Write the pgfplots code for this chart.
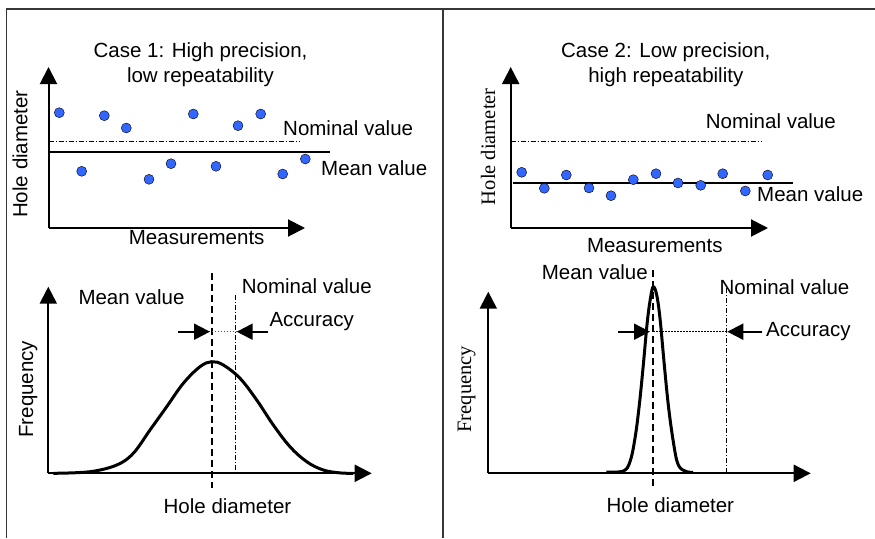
\documentclass[border=0pt]{standalone}
\usepackage{fontspec}
\setmainfont{Liberation Sans}
\newfontfamily\serif{Liberation Serif}
\usepackage{pgfplots}
\pgfplotsset{compat=1.18}
\usetikzlibrary{arrows.meta}

\definecolor{dotblue}{RGB}{51,102,255}
\definecolor{framegray}{RGB}{55,55,55}
\definecolor{accred}{RGB}{230,20,20}

% one picture unit = one pixel of the reference
\pgfplotsset{
  sketch/.style={scale only axis, anchor=south west, axis lines=left, ticks=none, clip=false,
    axis line style={line width=2pt, -{Triangle[length=17pt,width=17pt]}}},
  meas/.style={only marks, mark=*, mark size=5pt, mark options={draw=none, fill=dotblue}},
  nominal/.style={black, line width=0.9pt, dash pattern=on 5pt off 2pt on 1pt off 2pt},
  meanline/.style={black, line width=2pt},
  meanv/.style={black, line width=2pt, dash pattern=on 7pt off 4pt},
  curve/.style={black, line width=3pt, smooth, tension=0.6},
  acc/.style={black, line width=2pt, -{Triangle[length=16pt,width=16pt]}},
}
\tikzset{lab/.style={inner sep=0pt, font=\fontsize{20.5}{25}\selectfont}}

\begin{document}
\begin{tikzpicture}[x=1pt, y=1pt]
\useasboundingbox (0,0) rectangle (875,-538);
\draw[framegray, line width=1.5pt] (6.5,-538) -- (6.5,-9) -- (875,-9);
\draw[framegray, line width=1.5pt] (443,-9) -- (443,-538);

% Case 1: measurements
\begin{axis}[sketch, at={(48.5,-228)}, width=256.5pt, height=161pt,
  xmin=0, xmax=256.5, ymin=0, ymax=161]
\addplot[meas] coordinates {
  (10.8,115.3) (33.2,56.7) (55.8,112.3) (77.8,100) (100.5,48.7) (122.5,64.3)
  (144.8,114) (167.5,61.7) (189.5,102.3) (212.2,114) (234.2,54) (256.8,69)};
\addplot[nominal] coordinates {(0,87) (251.5,87)};
\addplot[meanline] coordinates {(1.5,76.3) (281.5,76.3)};
\node[lab, anchor=west] at (axis cs:234.5,100) {Nominal value};
\node[lab, anchor=west] at (axis cs:272.5,60) {Mean value};
\node[lab, align=center] at (axis cs:152,163.5) {Case 1: High precision,\\low repeatability};
\node[lab, rotate=90] at (axis cs:-28.5,74) {Hole diameter};
\node[lab] at (axis cs:148.2,-9.3) {Measurements};
\end{axis}

% Case 2: measurements
\begin{axis}[sketch, at={(510.7,-228)}, width=257.3pt, height=161pt,
  xmin=0, xmax=257.3, ymin=0, ymax=161]
\addplot[meas] coordinates {
  (11,55.7) (33.6,39.7) (55.6,53) (78.3,40) (100.3,32.3) (122.6,48.3)
  (145.3,54.3) (167.3,45) (190,42.7) (212,54.3) (234.6,37) (257,53)};
\addplot[nominal] coordinates {(0,87) (251,87)};
\addplot[meanline] coordinates {(2.3,45) (282,45)};
\node[lab, anchor=west] at (axis cs:195,107) {Nominal value};
\node[lab, anchor=west] at (axis cs:246.3,34) {Mean value};
\node[lab, align=center] at (axis cs:155.1,163.5) {Case 2: Low precision,\\high repeatability};
\node[lab, rotate=90, font=\fontsize{20.5}{25}\serif] at (axis cs:-22.7,81.3) {Hole diameter};
\node[lab] at (axis cs:144.1,-18) {Measurements};
\end{axis}

% Case 1: distribution
\begin{axis}[sketch, at={(48.3,-473.3)}, width=323.4pt, height=186.6pt,
  xmin=0, xmax=323.4, ymin=0, ymax=186.6]
\addplot[curve] coordinates {
  (5,0) (41.7,1.6) (68.4,8.3) (85,20) (101.7,43.3) (118.4,66.6) (135,90)
  (151.7,106.6) (163.4,111.6) (175,108.3) (191.7,95) (208.4,73.3) (225,48.3)
  (241.7,26.6) (258.4,11.6) (275,3.3) (291.7,0.4) (305,0)};
\addplot[meanv] coordinates {(163.7,200) (163.7,-15)};
\addplot[nominal] coordinates {(186.7,178.3) (186.7,0)};
\addplot[accred, line width=1.5pt, dash pattern=on 1.5pt off 1.5pt] coordinates {(148.4,141.6) (188.4,141.6)};
\addplot[acc] coordinates {(129.4,141.6) (161.7,141.6)};
\addplot[acc] coordinates {(220,141.6) (188.4,141.6)};
\node[lab, anchor=west] at (axis cs:221,151.6) {Accuracy};
\node[lab, anchor=west] at (axis cs:30,176) {Mean value};
\node[lab, anchor=west] at (axis cs:193.4,187.3) {Nominal value};
\node[lab, rotate=90] at (axis cs:-20,84.1) {Frequency};
\node[lab] at (axis cs:179.2,-32.4) {Hole diameter};
\end{axis}

% Case 2: distribution
\begin{axis}[sketch, at={(488.3,-473.3)}, width=322.4pt, height=181.6pt,
  xmin=0, xmax=322.4, ymin=0, ymax=181.6]
\addplot[curve] coordinates {
  (118,1.2) (135,2.3) (141.7,11.6) (146.7,35) (151,68.3) (155,108.3) (159,151.6)
  (162.4,176.6) (165,186.6) (168.4,178.3) (171.7,155) (175.7,111.6) (180,68.3)
  (185,31.6) (190,8.3) (198.4,1.6) (205,1)};
\addplot[meanv] coordinates {(165,203) (165,-15)};
\addplot[nominal] coordinates {(238.4,185.3) (238.4,0)};
\addplot[black, line width=1.2pt, dash pattern=on 1.2pt off 1.8pt] coordinates {(165,141.6) (238.4,141.6)};
\addplot[acc] coordinates {(130,141.6) (161.7,141.6)};
\addplot[acc] coordinates {(273.4,141.6) (239,141.6)};
\node[lab, anchor=west] at (axis cs:277.7,141.6) {Accuracy};
\node[lab, anchor=east] at (axis cs:159.7,201) {Mean value};
\node[lab, anchor=west] at (axis cs:231,186.6) {Nominal value};
\node[lab, rotate=90, font=\fontsize{20.5}{25}\serif] at (axis cs:-21.6,84.1) {Frequency};
\node[lab] at (axis cs:182,-31.7) {Hole diameter};
\end{axis}
\end{tikzpicture}
\end{document}
